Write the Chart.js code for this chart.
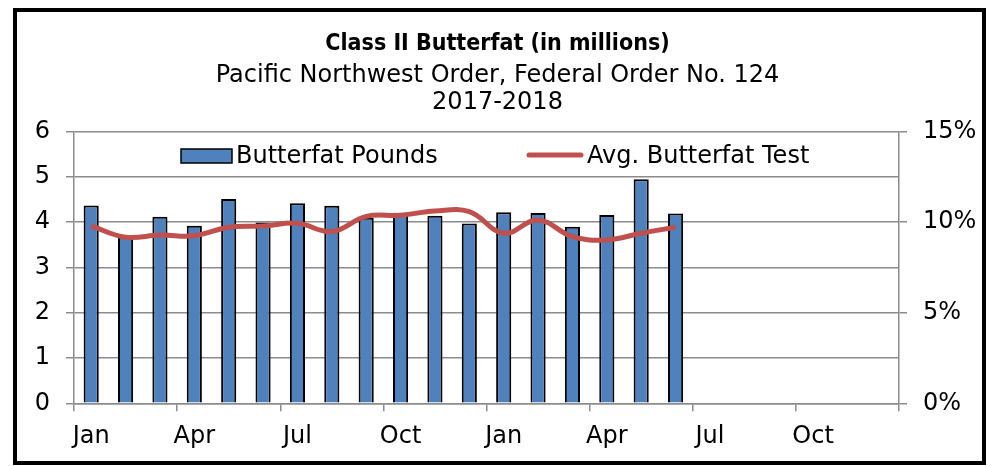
<!DOCTYPE html>
<html>
<head>
<meta charset="utf-8">
<title>Class II Butterfat</title>
<script src="https://cdn.jsdelivr.net/npm/chart.js@4.4.1/dist/chart.umd.min.js"></script>
<style>
  html, body { margin: 0; padding: 0; background: #fff; }
  #wrap { position: relative; width: 995px; height: 466px; }
  #frame {
    position: absolute; left: 13px; top: 8px; width: 973px; height: 457px;
    border: 4px solid #000; box-sizing: border-box; pointer-events: none;
  }
</style>
</head>
<body>
<div id="wrap">
  <canvas id="chart" width="995" height="466"></canvas>
  <div id="frame"></div>
</div>
<script>
// months shown on the category axis, Jan 2017 .. Dec 2018
const months = ['Jan', 'Feb', 'Mar', 'Apr', 'May', 'Jun', 'Jul', 'Aug', 'Sep', 'Oct', 'Nov', 'Dec',
                'Jan', 'Feb', 'Mar', 'Apr', 'May', 'Jun', 'Jul', 'Aug', 'Sep', 'Oct', 'Nov', 'Dec'];

// butterfat pounds, millions (left axis)
const butterfatPounds = [4.37, 3.68, 4.12, 3.92, 4.51, 3.99, 4.42, 4.36, 4.10, 4.21, 4.14, 3.97,
                         4.22, 4.20, 3.90, 4.16, 4.95, 4.19];

// average butterfat test, percent (right axis)
const butterfatTest = [9.79, 9.17, 9.29, 9.25, 9.72, 9.79, 9.94, 9.48, 10.32, 10.38, 10.62, 10.58,
                       9.39, 10.12, 9.20, 9.02, 9.39, 9.72];

const titleText = 'Class II Butterfat (in millions)';
const subtitleLines = ['Pacific Northwest Order, Federal Order No. 124', '2017-2018'];

const FONT = '"DejaVu Sans", Verdana, sans-serif';
const GRID = '#8c8c8c';
const BLUE = '#4f81bd';
const RED = '#c0504d';

// legend is drawn inside the plot, between the 6 and 5 gridlines
const insideLegend = {
  id: 'insideLegend',
  afterDraw(chart) {
    const ctx = chart.ctx;
    const ds = chart.data.datasets;
    const barDs = ds.find(d => d.type === 'bar');
    const lineDs = ds.find(d => d.type === 'line');
    ctx.save();
    ctx.font = '24px ' + FONT;
    ctx.textBaseline = 'middle';

    ctx.fillStyle = barDs.backgroundColor;
    ctx.fillRect(181, 149, 51, 14);
    ctx.strokeStyle = '#000';
    ctx.lineWidth = 1.5;
    ctx.strokeRect(181, 149, 51, 14);
    ctx.fillStyle = '#000';
    ctx.fillText(barDs.label, 236, 157);

    ctx.strokeStyle = lineDs.borderColor;
    ctx.lineWidth = 5;
    ctx.lineCap = 'round';
    ctx.beginPath();
    ctx.moveTo(529, 155);
    ctx.lineTo(581, 155);
    ctx.stroke();
    ctx.fillText(lineDs.label, 587, 157);
    ctx.restore();
  }
};

new Chart(document.getElementById('chart'), {
  data: {
    labels: months,
    datasets: [
      {
        type: 'line',
        label: 'Avg. Butterfat Test',
        data: butterfatTest,
        yAxisID: 'y1',
        borderColor: RED,
        borderWidth: 5,
        tension: 0.4,
        pointRadius: 0,
        fill: false,
        order: 0
      },
      {
        type: 'bar',
        label: 'Butterfat Pounds',
        data: butterfatPounds,
        yAxisID: 'y',
        backgroundColor: BLUE,
        borderColor: '#000',
        borderWidth: 2,
        categoryPercentage: 1,
        barPercentage: 0.44,
        order: 1
      }
    ]
  },
  options: {
    responsive: false,
    animation: false,
    layout: { padding: 0 },
    plugins: {
      legend: { display: false },
      tooltip: { enabled: false },
      title: {
        display: true,
        text: titleText,
        color: '#000',
        font: { family: '"DejaVu Sans Condensed", "DejaVu Sans", sans-serif', size: 23, weight: 'bold', lineHeight: 1.2 },
        padding: { top: 30, bottom: 0 }
      },
      subtitle: {
        display: true,
        text: subtitleLines,
        color: '#000',
        font: { family: FONT, size: 24, lineHeight: 1.146 },
        padding: { top: 4, bottom: 15 }
      }
    },
    scales: {
      x: {
        offset: true,
        grid: {
          offset: true,
          drawOnChartArea: false,
          tickLength: 8,
          lineWidth: 1.5,
          color: (c) => (c.index === undefined || c.index % 3 === 0) ? GRID : 'rgba(0,0,0,0)'
        },
        border: { color: GRID, width: 1.5 },
        ticks: {
          autoSkip: false,
          maxRotation: 0,
          padding: 11,
          color: '#000',
          font: { family: FONT, size: 24 },
          callback(v, i) { return i % 3 === 0 ? months[i] : ''; }
        },
        afterFit(scale) { scale.height = 62.7; }
      },
      y: {
        position: 'left',
        min: 0,
        max: 6,
        ticks: { stepSize: 1, padding: 16, color: '#000', font: { family: FONT, size: 24 } },
        grid: { color: GRID, lineWidth: 1.5, tickLength: 8 },
        border: { color: GRID, width: 1.5 },
        afterFit(scale) { scale.width = 74; }
      },
      y1: {
        position: 'right',
        min: 0,
        max: 15,
        ticks: {
          stepSize: 5, padding: 16, color: '#000', font: { family: FONT, size: 24 },
          callback: (v) => v + '%'
        },
        grid: { drawOnChartArea: false, color: GRID, lineWidth: 1.5, tickLength: 8 },
        border: { color: GRID, width: 1.5 },
        afterFit(scale) { scale.width = 96; }
      }
    }
  },
  plugins: [insideLegend]
});
</script>
</body>
</html>
